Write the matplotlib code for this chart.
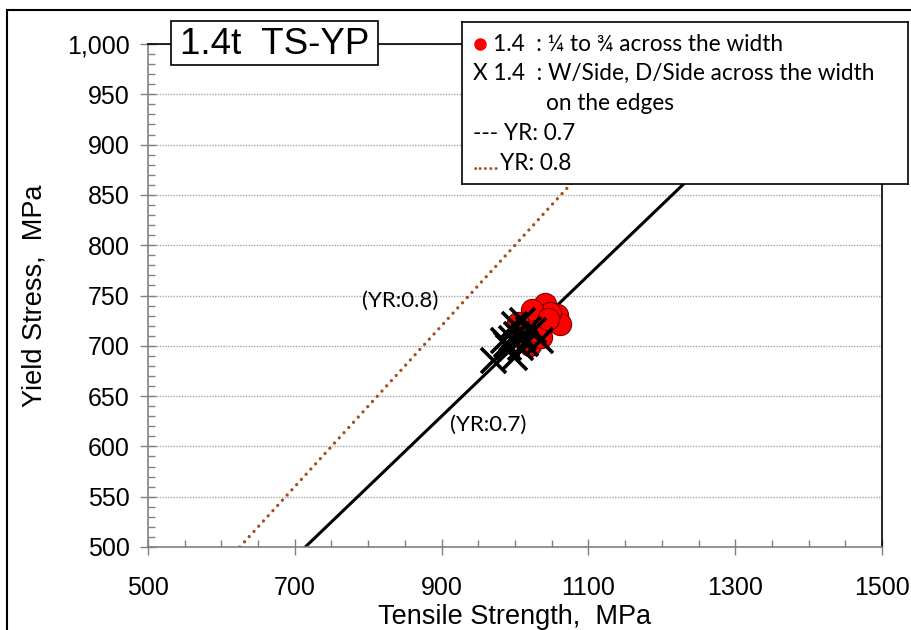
import matplotlib.pyplot as plt
from matplotlib.patches import Rectangle
from matplotlib.ticker import FixedLocator, MultipleLocator, FuncFormatter

# coil 1.4t, samples taken 1/4 to 3/4 across the width
ts_mid = [1041, 1057, 1061, 1048, 1030, 1023, 1020, 1014, 1036, 1004, 1010, 1027, 1045]
ys_mid = [742, 731, 722, 733, 724, 736, 701, 706, 709, 723, 712, 715, 727]
# samples from W/Side, D/Side on the edges
ts_edge = [970, 998, 991, 984, 998, 1009, 1034, 1011, 1002, 1018, 988, 1007, 1025, 995, 1013]
ys_edge = [686, 689, 699, 706, 722, 726, 706, 709, 712, 717, 702, 699, 716, 708, 703]

# constant yield-ratio reference lines
yr_values = [0.7, 0.8]
ys_span = [500, 1000]
yr_labels = ["(YR:0.7)", "(YR:0.8)"]
yr_label_pos = [(911, 621), (792, 745)]

x_ticks = [500, 700, 900, 1100, 1300, 1500]

legend_lines = [
    "1.4  : \u00bc to \u00be across the width",
    "X 1.4  : W/Side, D/Side across the width",
    "on the edges",
    "--- YR: 0.7",
    "YR: 0.8",
]

W, H = 912, 630
BROWN = "#A0521E"
GRAY = "#808080"
ARIAL = ["Liberation Sans", "DejaVu Sans"]
CALIBRI = ["Lato", "DejaVu Sans"]
LEG_FS = 16.3

fig = plt.figure(figsize=(W / 100, H / 100), dpi=100)
ax = fig.add_axes([148 / W, 1 - 547 / H, (882 - 148) / W, (547 - 44) / H])

# reference lines
ax.plot([v / yr_values[0] for v in ys_span], ys_span, color="black", lw=2.2, zorder=2)
ax.plot([v / yr_values[1] for v in ys_span], ys_span, color=BROWN, lw=2.4,
        linestyle=(0, (0.01, 2.1)), dash_capstyle="round", zorder=2)
for txt, (x, y) in zip(yr_labels, yr_label_pos):
    ax.text(x, y, txt, fontsize=16, family=CALIBRI, ha="left", va="center")

# measured points
ax.plot(ts_mid, ys_mid, "o", ms=16, mfc="#FF0000", mec="#7a0000", mew=0.8, zorder=3)
ax.plot(ts_edge, ys_edge, "x", ms=18, color="black", mew=2.6, zorder=4)

ax.set_xlim(500, 1500)
ax.set_ylim(500, 1000)
ax.xaxis.set_major_locator(FixedLocator(x_ticks))
ax.xaxis.set_minor_locator(MultipleLocator(50))
ax.yaxis.set_major_locator(MultipleLocator(50))
ax.yaxis.set_minor_locator(MultipleLocator(10))
ax.yaxis.set_major_formatter(FuncFormatter(lambda v, p: f"{v:,.0f}"))

ax.grid(axis="y", which="major", color="#a6a6a6", linestyle=(0, (1, 1)), lw=1)
ax.set_axisbelow(True)
for s in ["left", "bottom"]:
    ax.spines[s].set_color(GRAY)
    ax.spines[s].set_linewidth(1.2)
for s in ["top", "right"]:
    ax.spines[s].set_color("black")
    ax.spines[s].set_linewidth(1.2)
ax.tick_params(which="major", direction="inout", length=12, width=1, color=GRAY,
               labelsize=18)
ax.tick_params(axis="x", which="major", pad=15)
ax.tick_params(axis="y", which="major", pad=7)
ax.tick_params(which="minor", direction="in", length=5, width=1, color=GRAY)
for lab in ax.get_xticklabels() + ax.get_yticklabels():
    lab.set_family(ARIAL)

ax.set_xlabel("Tensile Strength,  MPa", fontsize=19.5, family=ARIAL, labelpad=3)
ax.set_ylabel("Yield Stress,  MPa", fontsize=19.5, family=ARIAL, labelpad=14)

# chart title in a boxed label on the top edge
fig.patches.append(Rectangle((171 / W, 1 - 65 / H), 207 / W, 44 / H, transform=fig.transFigure,
                             fc="white", ec="black", lw=1.2, zorder=5))
fig.text(275 / W, 1 - 44 / H, "1.4t  TS-YP", fontsize=26.5, family=ARIAL,
         ha="center", va="center", zorder=6)

# legend box drawn as its own panel in pixel units
lg = fig.add_axes([462 / W, 1 - 184 / H, 446 / W, 162 / H])
lg.set_xlim(0, 446)
lg.set_ylim(162, 0)
lg.set_xticks([])
lg.set_yticks([])
for s in lg.spines.values():
    s.set_color("black")
    s.set_linewidth(1.2)
row_y = [22, 51, 81, 111, 141]
lg.plot(18, row_y[0], "o", ms=8, color="#FF0000")
lg.text(31, row_y[0], legend_lines[0], fontsize=LEG_FS, family=CALIBRI, va="center")
lg.text(11, row_y[1], legend_lines[1], fontsize=LEG_FS, family=CALIBRI, va="center")
lg.text(84, row_y[2], legend_lines[2], fontsize=LEG_FS, family=CALIBRI, va="center")
lg.text(11, row_y[3], legend_lines[3], fontsize=LEG_FS, family=CALIBRI, va="center")
lg.text(11, row_y[4], ".....", fontsize=LEG_FS, family=CALIBRI, va="center", color=BROWN)
lg.text(38, row_y[4], legend_lines[4], fontsize=LEG_FS, family=CALIBRI, va="center")

# outer frame around the chart area
fig.patches.append(Rectangle((7 / W, -0.05), 1.1, 1 - 10 / H + 0.05, transform=fig.transFigure,
                             fill=False, ec="black", lw=1.5))

fig.savefig("out.png", dpi=100)
